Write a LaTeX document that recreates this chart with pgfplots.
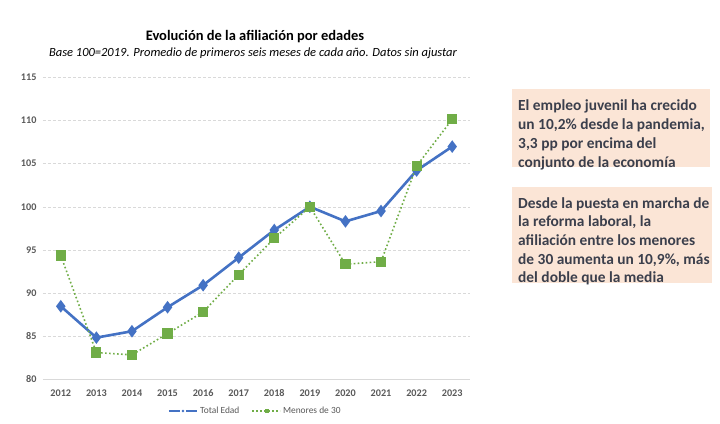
\documentclass[border=0pt]{standalone}
\usepackage{pgfplots}
\pgfplotsset{compat=1.18}
\usepackage{fontspec}
\setmainfont{Carlito}
\definecolor{tblue}{HTML}{4472C4}
\definecolor{tgreen}{HTML}{70AD47}
\definecolor{boxfill}{HTML}{FBE5D6}
\definecolor{boxtext}{HTML}{3B3F4C}
\definecolor{ticktext}{HTML}{595959}
\definecolor{gridc}{HTML}{D9D9D9}
\begin{document}
\begin{tikzpicture}
\path[use as bounding box] (0pt,0pt) rectangle (720pt,423pt);
\begin{axis}[at={(43pt,43.7pt)}, anchor=south west, scale only axis,
  width=427pt, height=302pt,
  xmin=-0.5, xmax=11.5, ymin=80, ymax=115,
  ytick={80,85,...,115}, xtick={0,...,11},
  xticklabels={2012,2013,2014,2015,2016,2017,2018,2019,2020,2021,2022,2023},
  ymajorgrids, grid style={densely dashed, gridc},
  axis x line*=bottom, axis y line*=left,
  x axis line style={gridc, line width=0.8pt},
  y axis line style={draw=none},
  major tick length=0pt,
  tick label style={font=\fontsize{10.2}{11}\selectfont\bfseries, text=ticktext},
  /pgf/number format/assume math mode=true,
  yticklabel style={xshift=-3pt},
  xticklabel style={yshift=-7pt},
  legend style={at={(0.497,-0.105)}, anchor=center, draw=none, legend columns=2,
    font=\fontsize{9.4}{10}\selectfont, text=ticktext,
    /tikz/every even column/.append style={column sep=10pt},
    /tikz/every odd column/.append style={column sep=0pt}},
  legend cell align=left,
]
\addplot[tblue, line width=2.6pt, mark=diamond*, mark size=4.2pt, mark options={solid}]
coordinates {(0,88.46) (1,84.83) (2,85.57) (3,88.35) (4,90.9) (5,94.1) (6,97.3) (7,100) (8,98.3) (9,99.5) (10,104.2) (11,106.97)};
\addlegendimage{empty legend}
\addplot[tgreen, line width=1.6pt, dash pattern=on 1.6pt off 2.4pt, mark=square*, mark size=4.3pt, mark options={solid}]
coordinates {(0,94.34) (1,83.1) (2,82.83) (3,85.3) (4,87.8) (5,92.13) (6,96.34) (7,100) (8,93.33) (9,93.64) (10,104.73) (11,110.13)};
\legend{}
\end{axis}
\begin{axis}[at={(43pt,43.7pt)}, anchor=south west, scale only axis,
  width=427pt, height=302pt, hide axis,
  xmin=-0.5, xmax=11.5, ymin=80, ymax=115,
  legend style={at={(0.497,-0.105)}, anchor=center, draw=none, legend columns=2,
    font=\fontsize{9.4}{10}\selectfont, text=ticktext,
    /tikz/every even column/.append style={column sep=10pt},
    /tikz/every odd column/.append style={column sep=0pt}},
  legend cell align=left,
]
\addlegendimage{legend image code/.code={
    \draw[tblue, line width=2.2pt] (0pt,0pt) -- (11pt,0pt);
    \draw[tblue, line width=2.2pt] (17pt,0pt) -- (28pt,0pt);
    \fill[tblue] (14pt,0pt) circle (1pt);}}
\addlegendentry{Total Edad}
\addlegendimage{legend image code/.code={
    \draw[tgreen, line width=1.6pt, dash pattern=on 1.6pt off 2.4pt] (0pt,0pt) -- (28pt,0pt);
    \fill[tgreen] (12.5pt,-1.5pt) rectangle (15.5pt,1.5pt);}}
\addlegendentry{Menores de 30}
\end{axis}
\node[font=\fontsize{14.5}{16}\selectfont\bfseries] at (255pt,386pt) {Evolución de la afiliación por edades};
\node[font=\fontsize{12.5}{14}\selectfont\itshape] at (253pt,370pt) {Base 100=2019. Promedio de primeros seis meses de cada año. Datos sin ajustar};
\fill[boxfill] (512pt,256pt) rectangle (710pt,334pt);
\node[anchor=north west, inner sep=0pt, align=left, text=boxtext,
  font=\fontsize{15.4}{19}\selectfont\bfseries] at (518pt,324pt)
  {El empleo juvenil ha crecido\\ un 10,2\% desde la pandemia,\\ 3,3 pp por encima del\\ conjunto de la economía};
\fill[boxfill] (512pt,140pt) rectangle (712pt,236pt);
\node[anchor=north west, inner sep=0pt, align=left, text=boxtext,
  font=\fontsize{15.4}{18.7}\selectfont\bfseries] at (518pt,226pt)
  {Desde la puesta en marcha de\\ la reforma laboral, la\\ afiliación entre los menores\\ de 30 aumenta un 10,9\%, más\\ del doble que la media};
\end{tikzpicture}
\end{document}
